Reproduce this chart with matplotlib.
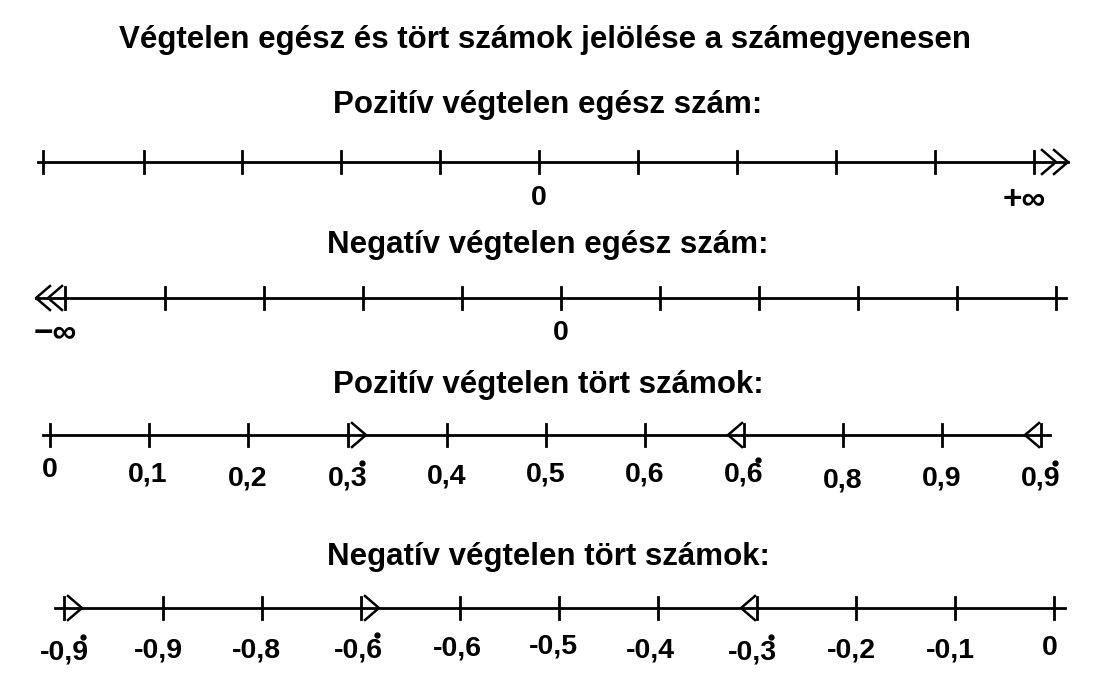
import matplotlib
matplotlib.use('Agg')
import matplotlib.pyplot as plt

plt.rcParams['font.family'] = ['Liberation Sans', 'DejaVu Sans']

TITLE = 'Végtelen egész és tört számok jelölése a számegyenesen'
SUBTITLES = ['Pozitív végtelen egész szám:', 'Negatív végtelen egész szám:',
             'Pozitív végtelen tört számok:', 'Negatív végtelen tört számok:']
SUB_Y = [105, 245, 385, 557]

# number lines: y, x-range, tick positions
LINE_Y = [162, 298, 435, 608]
LINE_X = [(38, 1068), (36, 1066), (43, 1050), (55, 1065)]
TICKS = [
    [43, 144, 242, 341, 440, 539, 638, 737, 836, 935, 1034],
    [65, 165, 264, 363, 462, 561, 660, 759, 858, 957, 1056],
    [50, 149, 248, 348, 447, 546, 645, 744, 843, 942, 1041],
    [64, 163, 262, 361, 460, 559, 658, 757, 856, 955, 1054],
]
# chevrons: (line index, tip x, direction)
CHEVRONS = [(0, 1056, 1), (0, 1068, 1), (1, 36, -1), (1, 48, -1),
            (2, 366, 1), (2, 728, -1), (2, 1025, -1),
            (3, 82, 1), (3, 379, 1), (3, 741, -1)]

# (x, y, text, repeating last digit?)
LABELS = [
    [(539, 198, '0', 0), (1024, 200, '+∞', 0)],
    [(55, 333, '−∞', 0), (561, 333, '0', 0)],
    [(50, 470, '0', 0), (148, 475, '0,1', 0), (248, 478, '0,2', 0), (348, 478, '0,3', 1),
     (447, 476, '0,4', 0), (546, 474, '0,5', 0), (645, 475, '0,6', 0), (744, 475, '0,6', 1),
     (843, 480, '0,8', 0), (942, 478, '0,9', 0), (1041, 478, '0,9', 1)],
    [(64, 652, '-0,9', 1), (158, 650, '-0,9', 0), (256, 650, '-0,8', 0), (358, 650, '-0,6', 1),
     (457, 648, '-0,6', 0), (553, 647, '-0,5', 0), (650, 650, '-0,4', 0), (752, 652, '-0,3', 1),
     (851, 650, '-0,2', 0), (950, 650, '-0,1', 0), (1050, 648, '0', 0)],
]

fig = plt.figure(figsize=(11.1, 7.0), dpi=100)
ax = fig.add_axes([0, 0, 1, 1])
ax.set_xlim(0, 1110)
ax.set_ylim(700, 0)
ax.axis('off')

ax.text(545, 40, TITLE, ha='center', va='center', fontsize=22.5, fontweight='bold')
for t, y in zip(SUBTITLES, SUB_Y):
    ax.text(548, y, t, ha='center', va='center', fontsize=22.5, fontweight='bold')

renderer = fig.canvas.get_renderer()
dotted = []
for i, y in enumerate(LINE_Y):
    x0, x1 = LINE_X[i]
    ax.plot([x0, x1], [y, y], color='black', lw=2)
    for tx in TICKS[i]:
        ax.plot([tx, tx], [y - 11, y + 11], color='black', lw=2)
    for lx, ly, s, rep in LABELS[i]:
        fs = 24 if '∞' in s else 20.5
        t = ax.text(lx, ly, s, ha='center', va='center', fontsize=fs, fontweight='bold')
        if rep:
            dotted.append(t)

# dot above the repeating digit
for t in dotted:
    bb = t.get_window_extent(renderer)
    (xr, yt), = ax.transData.inverted().transform([[bb.x1, bb.y1]])
    ax.plot(xr - 6, yt - 2, 'o', color='black', markersize=3.5)

for li, tip, d in CHEVRONS:
    y = LINE_Y[li]
    ax.plot([tip - 14 * d, tip, tip - 14 * d], [y - 12, y, y + 12], color='black', lw=1.8)

fig.savefig('out.png', dpi=100, facecolor='white')
